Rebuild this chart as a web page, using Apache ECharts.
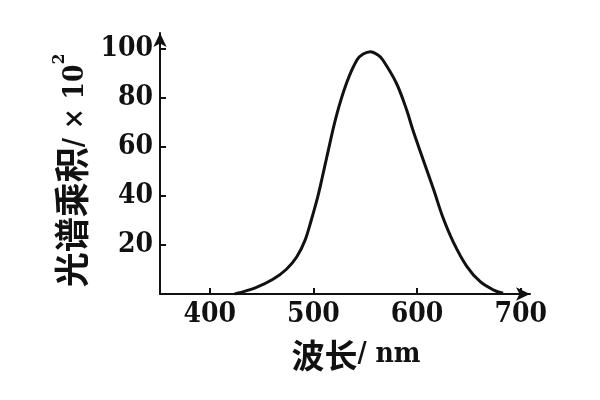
<!DOCTYPE html>
<html>
<head>
<meta charset="utf-8">
<script src="https://cdn.jsdelivr.net/npm/echarts@6/dist/echarts.min.js"></script>
<style>html,body{margin:0;padding:0;background:#fff}#c{width:600px;height:400px}</style>
</head>
<body>
<div id="c"></div>
<script>
const wavelengths = [424, 429, 445, 461, 474, 484, 492, 498, 504, 508, 513, 522, 532, 542, 548, 555, 562, 567, 580, 590, 596, 606, 616, 625, 635, 648, 661, 674, 683];
const products = [0, 0.5, 2.7, 6.0, 10.1, 15.2, 22.0, 30.2, 39.3, 46.5, 56.0, 72.4, 86.1, 95.5, 97.9, 98.9, 97.6, 95.5, 86.1, 75.1, 66.9, 54.7, 42.6, 31.2, 21.2, 11.3, 5.0, 1.6, 0.3];
const xTicks = [400, 500, 600, 700];
const yTicks = [20, 40, 60, 80, 100];
const xName = '波长';
const xUnit = '/ nm';
const yNameMain = '光谱乘积';
const yNameUnit = '/ × 10';
const yNameExp = '2';

const chart = echarts.init(document.getElementById('c'), null, {renderer: 'canvas'});
const serif = '"DejaVu Serif Condensed", "DejaVu Serif"';
chart.setOption({
  animation: false,
  backgroundColor: '#fff',
  grid: {left: 160, right: 70, top: 33, bottom: 106, containLabel: false},
  xAxis: {
    type: 'value', min: 352, max: 709,
    splitLine: {show: false},
    axisLine: {show: true, symbol: ['none', 'arrow'], symbolSize: [10, 14], lineStyle: {color: '#111', width: 2}},
    axisTick: {show: true, inside: true, length: 6, customValues: xTicks, lineStyle: {color: '#111', width: 2}},
    axisLabel: {customValues: xTicks, margin: 7, color: '#111', fontFamily: serif, fontWeight: 'bold', fontSize: 28},
    name: '{c|' + xName + '}{l|' + xUnit + '}', nameLocation: 'middle', nameGap: 42,
    nameTextStyle: {
      padding: [0, 0, 0, 22],
      rich: {
        c: {fontFamily: 'Noto Sans CJK SC', fontWeight: 'bold', fontSize: 33, color: '#111', lineHeight: 38},
        l: {fontFamily: serif, fontWeight: 'bold', fontSize: 28, color: '#111', lineHeight: 38}
      }
    }
  },
  yAxis: {
    type: 'value', min: 0, max: 106.5,
    splitLine: {show: false},
    axisLine: {show: true, symbol: ['none', 'arrow'], symbolSize: [10, 14], lineStyle: {color: '#111', width: 2}},
    axisTick: {show: true, inside: true, length: 6, customValues: yTicks, lineStyle: {color: '#111', width: 2}},
    axisLabel: {customValues: yTicks, margin: 7, color: '#111', fontFamily: serif, fontWeight: 'bold', fontSize: 28},
    name: '{c|' + yNameMain + '}{l|' + yNameUnit + '}{s|' + yNameExp + '}',
    nameLocation: 'middle', nameRotate: 90, nameGap: 70,
    nameTextStyle: {
      padding: [0, 14, 0, 0],
      rich: {
        c: {fontFamily: 'Noto Sans CJK SC', fontWeight: 'bold', fontSize: 35, color: '#111', lineHeight: 38, verticalAlign: 'bottom'},
        l: {fontFamily: serif, fontWeight: 'bold', fontSize: 28, color: '#111', lineHeight: 38, verticalAlign: 'bottom'},
        s: {fontFamily: serif, fontWeight: 'bold', fontSize: 17, color: '#111', lineHeight: 38, verticalAlign: 'top'}
      }
    }
  },
  series: [{
    type: 'line',
    data: wavelengths.map((w, i) => [w, products[i]]),
    smooth: 0.35,
    showSymbol: false,
    lineStyle: {color: '#111', width: 3}
  }]
});
</script>
</body>
</html>
